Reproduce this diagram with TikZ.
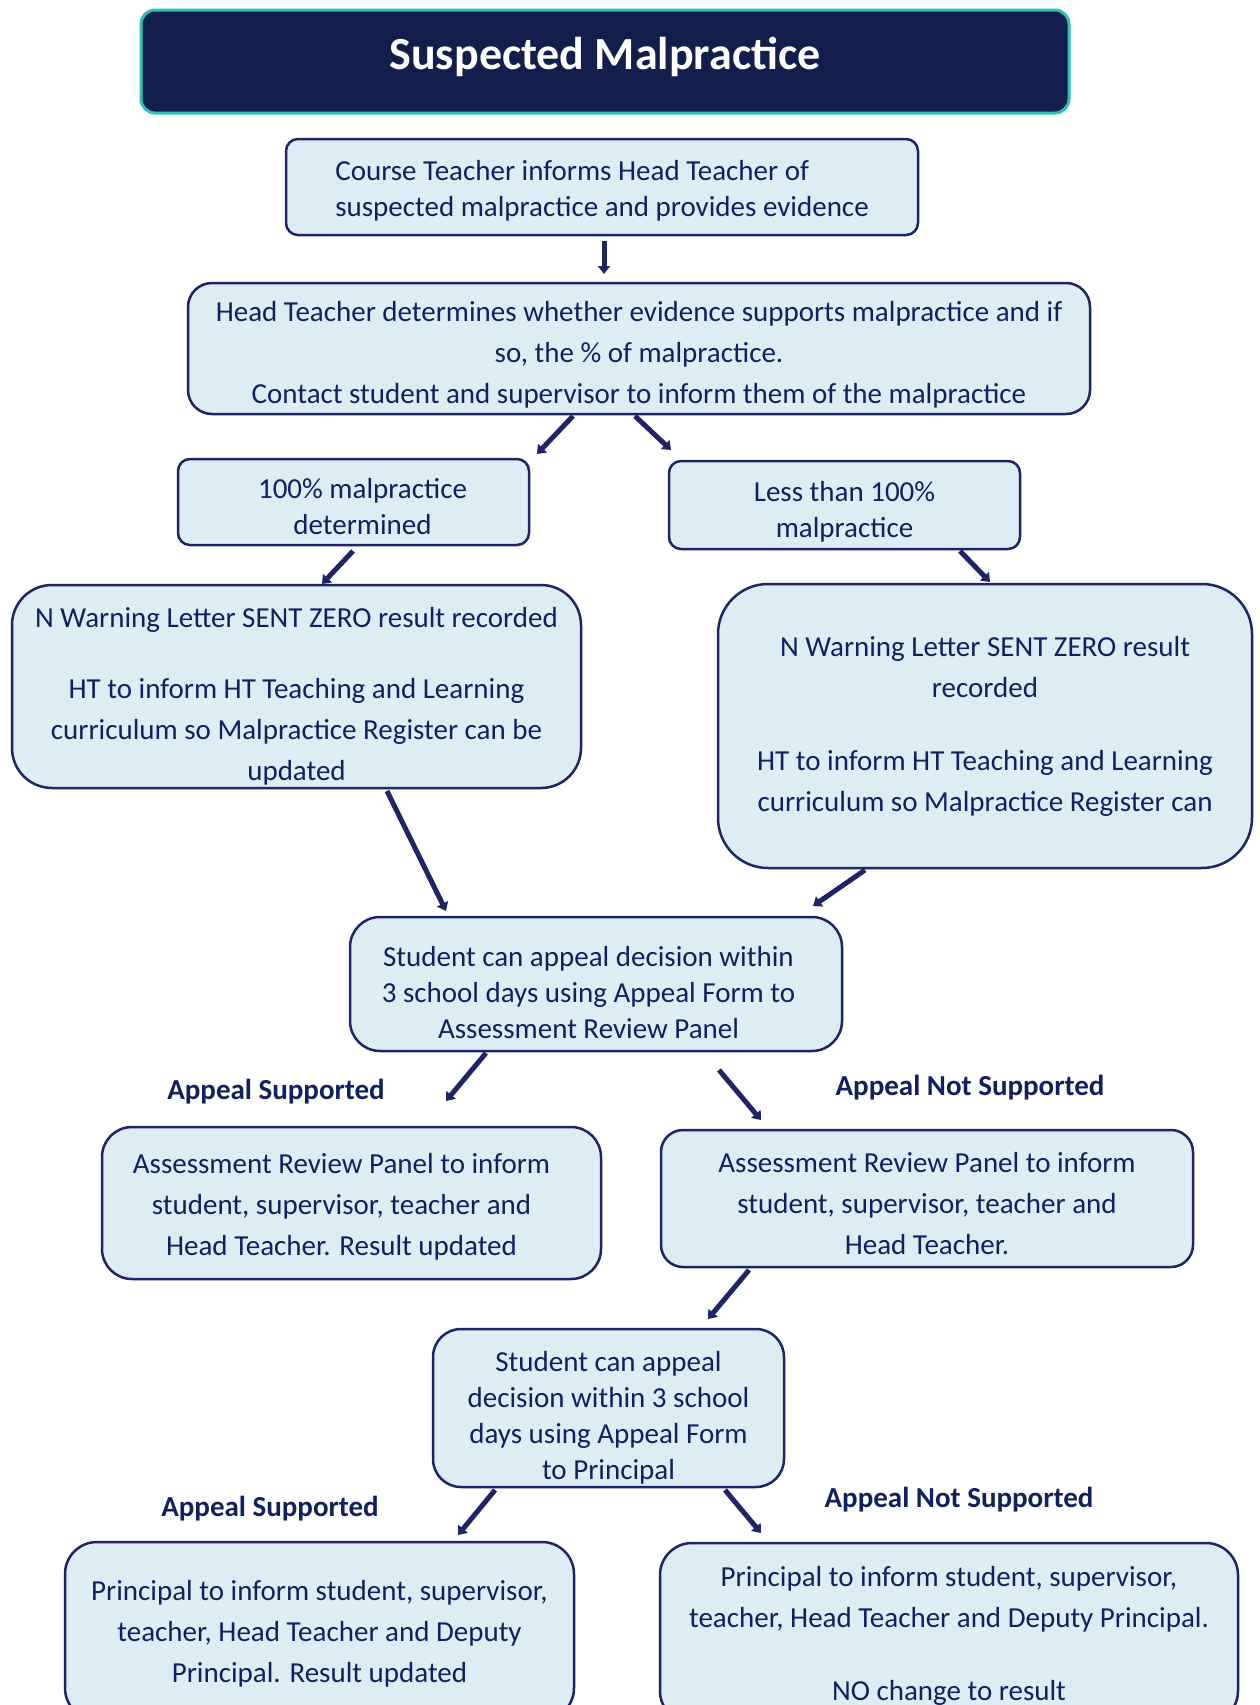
\documentclass[tikz,border=0pt]{standalone}
\usepackage{fontspec}
\setmainfont{Carlito}
\usetikzlibrary{arrows.meta}
\definecolor{navy}{HTML}{121E4B}
\definecolor{teal}{HTML}{2BC4B4}
\definecolor{boxfill}{HTML}{DCEDF3}
\definecolor{boxline}{HTML}{1F2466}
\definecolor{txt}{HTML}{122060}
\definecolor{arrowcol}{HTML}{1E2466}
\newcommand{\pad}[1]{\rule{#1}{0pt}}
\newcommand{\lift}[1]{\rule{0pt}{#1}}
\tikzset{
  box/.style={draw=boxline, fill=boxfill, line width=2.5pt, text=txt, align=center, inner sep=0pt},
  fs36/.style={font=\fontsize{29}{36}\selectfont},
  fs41/.style={font=\fontsize{29}{41}\selectfont},
  lbl/.style={text=txt, font=\fontsize{29}{36}\selectfont\bfseries},
  arr/.style={draw=arrowcol, line width=5pt, -{Triangle[length=8pt,width=12pt]}}
}
\begin{document}
\begin{tikzpicture}[x=1pt,y=-1pt]
\path[use as bounding box, clip] (0,0) rectangle (1259,1705);
\fill[white] (0,0) rectangle (1259,1705);

\node[draw=teal, fill=navy, line width=3pt, rounded corners=14pt, minimum width=928pt, minimum height=103pt, text=white, text depth=16pt, font=\fontsize{46}{50}\selectfont\bfseries] (title) at (605,61.5) {Suspected Malpractice};

\node[box, fs36, align=left, rounded corners=12pt, minimum width=632pt, minimum height=96pt] (b1) at (602,187) {\lift{27pt}Course Teacher informs Head Teacher of\\suspected malpractice and provides evidence};

\node[box, fs41, rounded corners=24pt, minimum width=902pt, minimum height=131pt] (b2) at (639,348.5) {\lift{32pt}Head Teacher determines whether evidence supports malpractice and if\\so, the \% of malpractice.\\Contact student and supervisor to inform them of the malpractice};

\node[box, fs36, rounded corners=12pt, minimum width=351pt, minimum height=86pt] (b3) at (353.5,502) {\lift{29pt}\pad{18pt}100\% malpractice\\\pad{18pt}determined};

\node[box, fs36, rounded corners=12pt, minimum width=351pt, minimum height=88pt] (b4) at (844.5,505) {\lift{33pt}Less than 100\%\\malpractice};

\node[box, fs41, rounded corners=40pt, minimum width=569pt, minimum height=203pt] (b5) at (296.5,686.5) {\lift{39pt}N Warning Letter SENT ZERO result recorded\\[30pt]HT to inform HT Teaching and Learning\\curriculum so Malpractice Register can be\\updated};

\node[box, fs41, rounded corners=50pt, minimum width=534pt, minimum height=284pt] (b6) at (985,726) {N Warning Letter SENT ZERO result\\recorded\\[32pt]HT to inform HT Teaching and Learning\\curriculum so Malpractice Register can};

\node[box, fs36, rounded corners=30pt, minimum width=492pt, minimum height=134pt] (b7) at (596,984) {\lift{37pt}Student can appeal decision within\pad{15pt}\\3 school days using Appeal Form to\pad{15pt}\\Assessment Review Panel\pad{15pt}};

\node[lbl] (l1) at (276,1092) {Appeal Supported};
\node[lbl] (l2) at (970,1088) {Appeal Not Supported};

\node[box, fs41, rounded corners=30pt, minimum width=499pt, minimum height=152pt] (b8) at (351.5,1203) {\lift{27pt}Assessment Review Panel to inform\pad{20pt}\\student, supervisor, teacher and\pad{20pt}\\Head Teacher. Result updated\pad{20pt}};

\node[box, fs41, rounded corners=22pt, minimum width=532pt, minimum height=137pt] (b9) at (927,1198.5) {\lift{31pt}Assessment Review Panel to inform\\student, supervisor, teacher and\\Head Teacher.};

\node[box, fs36, rounded corners=28pt, minimum width=351pt, minimum height=158pt] (b10) at (608.5,1408) {\lift{39pt}Student can appeal\\decision within 3 school\\days using Appeal Form\\to Principal};

\node[lbl] (l3) at (270,1509) {Appeal Supported};
\node[lbl] (l4) at (959,1500) {Appeal Not Supported};

\node[box, fs41, rounded corners=32pt, minimum width=509pt, minimum height=178pt] (b11) at (319.5,1631) {\lift{25pt}Principal to inform student, supervisor,\\teacher, Head Teacher and Deputy\\Principal. Result updated};

\node[box, fs41, rounded corners=32pt, minimum width=578pt, minimum height=180pt] (b12) at (949,1633) {\lift{26pt}Principal to inform student, supervisor,\\teacher, Head Teacher and Deputy Principal.\\[32pt]NO change to result};

% connector end points
\coordinate (a1s) at (604,241);  \coordinate (a1e) at (604,274);
\coordinate (a2s) at (573,416);  \coordinate (a2e) at (537,454);
\coordinate (a3s) at (635,416);  \coordinate (a3e) at (671,450);
\coordinate (a4s) at (353,551);  \coordinate (a4e) at (322,584);
\coordinate (a5s) at (960,551);  \coordinate (a5e) at (990,582);
\coordinate (a6s) at (387,791);  \coordinate (a6e) at (446,911);
\coordinate (a7s) at (865,870);  \coordinate (a7e) at (813,906);
\coordinate (a8s) at (486,1053); \coordinate (a8e) at (446,1101);
\coordinate (a9s) at (719,1070); \coordinate (a9e) at (761,1120);
\coordinate (a10s) at (749,1270); \coordinate (a10e) at (708,1319);
\coordinate (a11s) at (495,1490); \coordinate (a11e) at (458,1535);
\coordinate (a12s) at (725,1490); \coordinate (a12e) at (761,1533);

\foreach \i in {1,...,12} {\draw[arr] (a\i s) -- (a\i e);}
\end{tikzpicture}
\end{document}
